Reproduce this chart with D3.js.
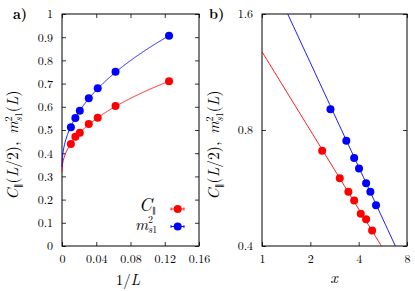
<!DOCTYPE html>
<html><head><meta charset="utf-8">
<script src="https://cdn.jsdelivr.net/npm/d3@7"></script>
<style>
body{margin:0;background:#fff;}
svg{display:block;}
</style></head><body>
<svg id="c" width="415" height="291"></svg>
<script>
// ---- data ----
const invL = [0.125, 0.0625, 0.0417, 0.03125, 0.0208, 0.0156, 0.0104];
const cPar = [0.710, 0.603, 0.553, 0.526, 0.488, 0.471, 0.440];
const ms1 = [0.906, 0.751, 0.680, 0.637, 0.583, 0.552, 0.512];
const xRed = [2.37, 3.05, 3.45, 3.75, 4.12, 4.45, 4.85];
const yRed = [0.707, 0.600, 0.553, 0.525, 0.485, 0.469, 0.439];
const xBlue = [2.67, 3.35, 3.75, 4.02, 4.45, 4.73, 5.13];
const yBlue = [0.905, 0.750, 0.677, 0.636, 0.582, 0.553, 0.510];
// fit parameters: a + b*x^c (left), A*x^p (right)
const fitLeftRed = [0.32, 1.037, 0.47];
const fitLeftBlue = [0.34, 1.505, 0.47];
const fitRightRed = [1.277, -0.678];
const fitRightBlue = [2.228, -0.898];
const xTicksA = [0, 0.04, 0.08, 0.12, 0.16];
const yTicksA = [0, 0.1, 0.2, 0.3, 0.4, 0.5, 0.6, 0.7, 0.8, 0.9, 1];
const xTicksB = [1, 2, 4, 8];
const yTicksB = [0.4, 0.8, 1.6];

const RED = "#ff0000", BLUE = "#0000ff";
const FONT = '"Latin Modern Roman","Liberation Serif",serif';
const svg = d3.select("#c");
const fs = 12;

// panel a
const A = {l:62, r:199, t:14, b:246};
const xa = d3.scaleLinear().domain([0, 0.16]).range([A.l, A.r]);
const ya = d3.scaleLinear().domain([0, 1]).range([A.b, A.t]);
// panel b
const B = {l:262, r:407, t:14, b:246};
const xb = d3.scaleLog().base(2).domain([1, 8]).range([B.l, B.r]);
const yb = d3.scaleLog().base(2).domain([0.4, 1.6]).range([B.b, B.t]);

function frame(P, x, y, xt, yt, xf, yf) {
  const g = svg.append("g");
  g.append("g").attr("transform", `translate(0,${P.b})`)
    .call(d3.axisBottom(x).tickValues(xt).tickSize(-4).tickPadding(8).tickFormat(xf));
  g.append("g").attr("transform", `translate(0,${P.t})`)
    .call(d3.axisTop(x).tickValues(xt).tickSize(-4).tickFormat(""));
  g.append("g").attr("transform", `translate(${P.l},0)`)
    .call(d3.axisLeft(y).tickValues(yt).tickSize(-4).tickPadding(9).tickFormat(yf));
  g.append("g").attr("transform", `translate(${P.r},0)`)
    .call(d3.axisRight(y).tickValues(yt).tickSize(-4).tickFormat(""));
  g.selectAll(".domain").remove();
  g.selectAll(".tick line").attr("stroke", "#000").attr("stroke-width", 0.8);
  g.selectAll(".tick text").attr("font-size", fs).style("font-family", FONT).attr("fill", "#000");
  g.append("rect").attr("x", P.l).attr("y", P.t).attr("width", P.r - P.l).attr("height", P.b - P.t)
    .attr("fill", "none").attr("stroke", "#000").attr("stroke-width", 1);
  return g;
}
frame(A, xa, ya, xTicksA, yTicksA, d => d === 0 ? "0" : String(d), d => String(d));
frame(B, xb, yb, xTicksB, yTicksB, d => String(d), d => d3.format(".1f")(d));

// clip for panel b
svg.append("clipPath").attr("id", "clipB").append("rect")
  .attr("x", B.l).attr("y", B.t).attr("width", B.r - B.l).attr("height", B.b - B.t);

// panel a curves
function leftCurve(p) {
  const xs = d3.range(0, 0.1251, 0.0005);
  return xs.map(v => [v, p[0] + p[1] * Math.pow(v, p[2])]);
}
const lineA = d3.line().x(d => xa(d[0])).y(d => ya(d[1]));
svg.append("path").attr("d", lineA(leftCurve(fitLeftRed))).attr("fill", "none").attr("stroke", RED).attr("stroke-width", 0.9);
svg.append("path").attr("d", lineA(leftCurve(fitLeftBlue))).attr("fill", "none").attr("stroke", BLUE).attr("stroke-width", 0.9);

const R = 4;
svg.append("g").selectAll("circle").data(invL).join("circle")
  .attr("cx", d => xa(d)).attr("cy", (d, i) => ya(cPar[i])).attr("r", R).attr("fill", RED);
svg.append("g").selectAll("circle").data(invL).join("circle")
  .attr("cx", d => xa(d)).attr("cy", (d, i) => ya(ms1[i])).attr("r", R).attr("fill", BLUE);

// panel b lines
function rightLine(p) {
  return d3.range(0, 3.001, 0.05).map(e => { const v = Math.pow(2, e); return [v, p[0] * Math.pow(v, p[1])]; });
}
const lineB = d3.line().x(d => xb(d[0])).y(d => yb(d[1]));
const gb = svg.append("g").attr("clip-path", "url(#clipB)");
gb.append("path").attr("d", lineB(rightLine(fitRightRed))).attr("fill", "none").attr("stroke", RED).attr("stroke-width", 0.9);
gb.append("path").attr("d", lineB(rightLine(fitRightBlue))).attr("fill", "none").attr("stroke", BLUE).attr("stroke-width", 0.9);
svg.append("g").selectAll("circle").data(xRed).join("circle")
  .attr("cx", d => xb(d)).attr("cy", (d, i) => yb(yRed[i])).attr("r", R).attr("fill", RED);
svg.append("g").selectAll("circle").data(xBlue).join("circle")
  .attr("cx", d => xb(d)).attr("cy", (d, i) => yb(yBlue[i])).attr("r", R).attr("fill", BLUE);

// legend
const legItems = [{c: RED, y: 209}, {c: BLUE, y: 226.5}];
legItems.forEach(it => {
  const g = svg.append("g");
  g.append("line").attr("x1", 171).attr("x2", 184).attr("y1", it.y).attr("y2", it.y).attr("stroke", it.c).attr("stroke-width", 0.9);
  g.append("line").attr("x1", 171).attr("x2", 171).attr("y1", it.y - 1.5).attr("y2", it.y + 1.5).attr("stroke", it.c).attr("stroke-width", 0.9);
  g.append("line").attr("x1", 184).attr("x2", 184).attr("y1", it.y - 1.5).attr("y2", it.y + 1.5).attr("stroke", it.c).attr("stroke-width", 0.9);
  g.append("circle").attr("cx", 177.7).attr("cy", it.y).attr("r", R).attr("fill", it.c);
});
// legend labels
const t1 = svg.append("text").attr("x", 139).attr("y", 211).attr("font-size", 18).style("font-family", FONT);
t1.append("tspan").attr("font-style", "italic").text("C");
t1.append("tspan").attr("font-size", 8).attr("dx", 0).attr("dy", 2).text("∥");
const t2 = svg.append("text").attr("x", 135).attr("y", 230).attr("font-size", 16).style("font-family", FONT);
t2.append("tspan").attr("font-style", "italic").text("m");
t2.append("tspan").attr("font-size", 10).attr("dy", -7).text("2");
t2.append("tspan").attr("font-size", 10).attr("font-style", "italic").attr("dx", -5).attr("dy", 10).text("s");
t2.append("tspan").attr("font-size", 10).text("1");

// y axis labels
function yLabel(cx, cy) {
  const t = svg.append("text").attr("transform", `translate(${cx},${cy}) rotate(-90)`)
    .attr("text-anchor", "middle").attr("font-size", 15.5).style("font-family", FONT);
  t.append("tspan").attr("font-style", "italic").text("C");
  t.append("tspan").attr("font-size", 9).attr("dy", 3).text("∥");
  t.append("tspan").attr("dy", -3).text("(");
  t.append("tspan").attr("font-style", "italic").text("L");
  t.append("tspan").text("/2),\u2002");
  t.append("tspan").attr("font-style", "italic").text("m");
  t.append("tspan").attr("font-size", 10).attr("dy", -6.5).text("2");
  t.append("tspan").attr("font-size", 10).attr("font-style", "italic").attr("dx", -5).attr("dy", 10).text("s");
  t.append("tspan").attr("font-size", 10).text("1");
  t.append("tspan").attr("dy", -3.5).text("(");
  t.append("tspan").attr("font-style", "italic").text("L");
  t.append("tspan").text(")");
}
yLabel(18, 145);
yLabel(219, 145);

// x axis labels
const xl = svg.append("text").attr("x", 128).attr("y", 285).attr("text-anchor", "middle").attr("font-size", 15).style("font-family", FONT);
xl.append("tspan").text("1/");
xl.append("tspan").attr("font-style", "italic").text("L");
svg.append("text").attr("x", 334).attr("y", 283).attr("text-anchor", "middle").attr("font-size", 16)
  .style("font-family", FONT).attr("font-style", "italic").text("x");

// panel labels
svg.append("text").attr("x", 13).attr("y", 19).attr("font-size", 14).attr("font-weight", "bold").style("font-family", FONT).text("a)");
svg.append("text").attr("x", 209).attr("y", 19).attr("font-size", 14).attr("font-weight", "bold").style("font-family", FONT).text("b)");
</script>
</body></html>
